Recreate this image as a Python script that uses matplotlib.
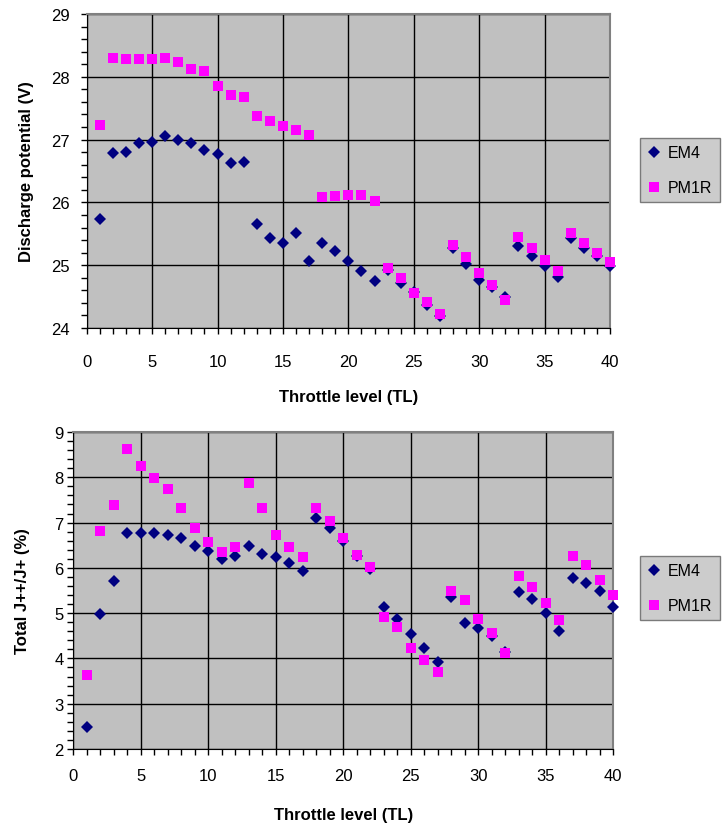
import matplotlib.pyplot as plt
from matplotlib.ticker import MultipleLocator

plt.rcParams['font.family'] = ['Liberation Sans', 'DejaVu Sans']

# Throttle levels
tl = list(range(1, 41))

# Discharge potential (V)
em4_v = [25.74, 26.79, 26.81, 26.94, 26.96, 27.05, 26.99, 26.94, 26.84, 26.77,
         26.63, 26.64, 25.66, 25.43, 25.36, 25.51, 25.06, 25.36, 25.23, 25.06,
         24.90, 24.75, 24.92, 24.72, 24.58, 24.37, 24.19, 25.27, 25.02, 24.76,
         24.65, 24.50, 25.31, 25.15, 24.98, 24.82, 25.43, 25.27, 25.14, 24.98]
pm1r_v = [27.23, 28.30, 28.28, 28.28, 28.28, 28.30, 28.23, 28.13, 28.09, 27.86,
          27.71, 27.68, 27.38, 27.30, 27.22, 27.15, 27.08, 26.08, 26.10, 26.12,
          26.12, 26.03, 24.95, 24.79, 24.55, 24.42, 24.22, 25.32, 25.13, 24.87,
          24.69, 24.45, 25.45, 25.27, 25.09, 24.90, 25.52, 25.35, 25.19, 25.05]

# Total J++/J+ (%)
em4_j = [2.49, 4.99, 5.71, 6.76, 6.76, 6.76, 6.73, 6.66, 6.49, 6.38,
         6.19, 6.26, 6.49, 6.31, 6.24, 6.10, 5.92, 7.11, 6.89, 6.60,
         6.26, 5.97, 5.14, 4.87, 4.54, 4.22, 3.93, 5.35, 4.79, 4.68,
         4.50, 4.15, 5.47, 5.31, 5.01, 4.61, 5.78, 5.67, 5.49, 5.14]
pm1r_j = [3.64, 6.82, 7.38, 8.63, 8.24, 7.99, 7.74, 7.32, 6.89, 6.57,
          6.36, 6.46, 7.88, 7.32, 6.72, 6.46, 6.23, 7.32, 7.04, 6.65,
          6.29, 6.01, 4.91, 4.70, 4.24, 3.97, 3.71, 5.48, 5.30, 4.88,
          4.56, 4.13, 5.83, 5.58, 5.23, 4.84, 6.26, 6.07, 5.73, 5.40]

fig = plt.figure(figsize=(7.22, 8.29), dpi=100)

W, H = 722, 829


def make_axes(l, t, r, b):
    return fig.add_axes([l / W, 1 - b / H, (r - l) / W, (b - t) / H])


def plot_series(ax, em4, pm1r):
    ax.plot(tl, em4, linestyle='none', marker='D', markersize=5.8,
            color='#000080', markeredgewidth=0, label='EM4', clip_on=False,
            zorder=3)
    ax.plot(tl, pm1r, linestyle='none', marker='s', markersize=6.8,
            color='#ff00ff', markeredgewidth=0, label='PM1R', clip_on=False,
            zorder=4)


def style_axes(ax, ylim, ylabel, xpad, ypad, xlab_y, ylab_x):
    ax.set_facecolor('#c0c0c0')
    ax.set_xlim(0, 40)
    ax.set_ylim(*ylim)
    ax.xaxis.set_major_locator(MultipleLocator(5))
    ax.xaxis.set_minor_locator(MultipleLocator(1))
    ax.yaxis.set_major_locator(MultipleLocator(1))
    ax.yaxis.set_minor_locator(MultipleLocator(0.2))
    ax.grid(True, which='major', color='black', linewidth=1)
    ax.set_axisbelow(True)
    ax.tick_params(axis='x', which='both', direction='out', length=4,
                   width=1, pad=xpad, labelsize=12)
    ax.tick_params(axis='y', which='both', direction='out', length=4,
                   width=1, pad=ypad, labelsize=12)
    for side in ['top', 'right']:
        ax.spines[side].set_color('#808080')
        ax.spines[side].set_linewidth(1.5)
    for side in ['left', 'bottom']:
        ax.spines[side].set_color('black')
    ax.set_xlabel('Throttle level (TL)', fontsize=12, fontweight='bold')
    ax.set_ylabel(ylabel, fontsize=12, fontweight='bold')
    ax.xaxis.set_label_coords(0.5, xlab_y)
    ax.yaxis.set_label_coords(ylab_x, 0.5)


def add_legend(ax, l, t):
    leg = ax.legend(loc='upper left', bbox_to_anchor=(l / W, 1 - t / H),
                    bbox_transform=fig.transFigure, fontsize=11.5,
                    frameon=True, fancybox=False, handlelength=0.8,
                    handletextpad=0.5, borderpad=0.45, labelspacing=1.25,
                    borderaxespad=0)
    leg.get_frame().set_facecolor('#c0c0c0')
    leg.get_frame().set_edgecolor('#606060')
    leg.get_frame().set_linewidth(1)


# Top: discharge potential
ax1 = make_axes(86.7, 15, 610, 329)
plot_series(ax1, em4_v, pm1r_v)
style_axes(ax1, (24, 29), 'Discharge potential (V)', 15, 8, -0.195, -0.1)
add_legend(ax1, 640, 139)

# Bottom: J++/J+
ax2 = make_axes(73.3, 433, 613.3, 750)
plot_series(ax2, em4_j, pm1r_j)
style_axes(ax2, (2, 9), 'Total J++/J+ (%)', 10, 3, -0.183, -0.08)
add_legend(ax2, 640, 557)

fig.savefig('out.png', dpi=100)
